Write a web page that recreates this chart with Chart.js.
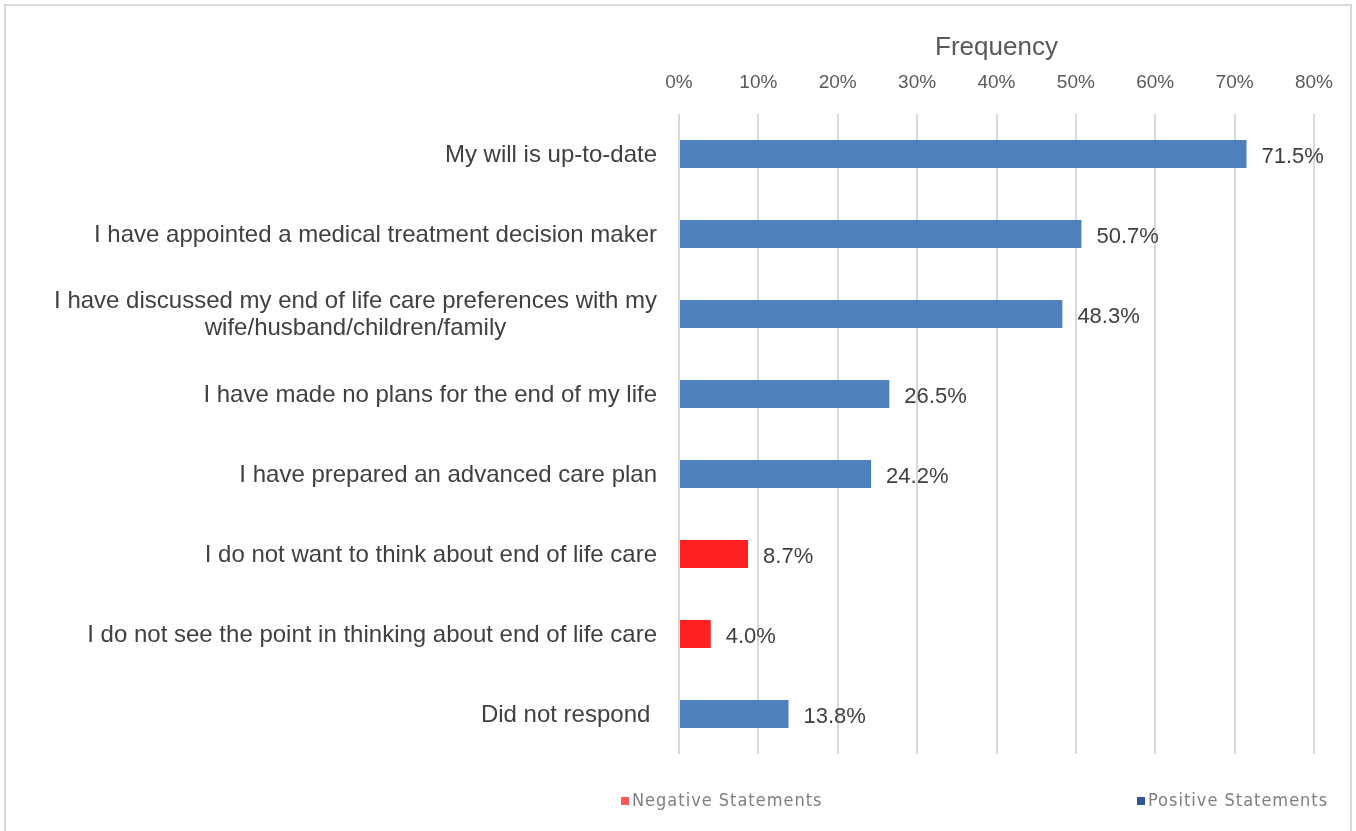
<!DOCTYPE html>
<html>
<head>
<meta charset="utf-8">
<script src="https://cdn.jsdelivr.net/npm/chart.js@4.4.0/dist/chart.umd.min.js"></script>
<style>
  html, body { margin: 0; padding: 0; background: #fff; overflow: hidden; }
  #wrap { position: relative; width: 1356px; height: 831px; }
  #frame { position: absolute; left: 4px; top: 4px; width: 1344px; height: 900px; border: 2px solid #d9d9d9; }
  #chart { position: absolute; left: 0; top: 0; }
  .leg { position: absolute; top: 789px; font-family: "Liberation Sans Narrow", "DejaVu Sans Condensed", sans-serif; font-size: 18px; color: #7f7f7f; white-space: nowrap; letter-spacing: 1px; }
  .leg span { display: inline-block; width: 8px; height: 8px; margin-right: 3px; vertical-align: 1px; }
</style>
</head>
<body>
<div id="wrap">
  <div id="frame"></div>
  <canvas id="chart" width="1356" height="831"></canvas>
  <div class="leg" style="left:621px"><span style="background:#ff5757"></span>Negative Statements</div>
  <div class="leg" style="left:1137px"><span style="background:#2f5597"></span>Positive Statements</div>
</div>
<script>
// Categorias (una linea por elemento del arreglo)
const statements = [
    ['My will is up-to-date'],
    ['I have appointed a medical treatment decision maker'],
    ['I have discussed my end of life care preferences with my', 'wife/husband/children/family'],
    ['I have made no plans for the end of my life'],
    ['I have prepared an advanced care plan'],
    ['I do not want to think about end of life care'],
    ['I do not see the point in thinking about end of life care'],
    ['Did not respond ']
];
const frequency = [71.5, 50.7, 48.3, 26.5, 24.2, 8.7, 4.0, 13.8];
const statementType = ['pos', 'pos', 'pos', 'pos', 'pos', 'neg', 'neg', 'pos'];
const xTicks = [0, 10, 20, 30, 40, 50, 60, 70, 80];

const positive = frequency.map((v, i) => statementType[i] === 'pos' ? v : null);
const negative = frequency.map((v, i) => statementType[i] === 'neg' ? v : null);

const FONT = '"Liberation Sans", Arial, sans-serif';

// Etiquetas del eje Y (bloque alineado a la derecha, lineas centradas)
const categoryLabels = {
    id: 'categoryLabels',
    afterDraw(chart) {
        const c = chart.ctx;
        const y = chart.scales.y;
        const right = chart.chartArea.left - 22;
        const lh = 27;
        c.save();
        c.font = '24px ' + FONT;
        c.fillStyle = '#404040';
        c.textAlign = 'center';
        c.textBaseline = 'middle';
        statements.forEach((lines, i) => {
            const w = Math.max(...lines.map(l => c.measureText(l).width));
            const cx = right - w / 2;
            const cy = y.getPixelForValue(i) + 1;
            lines.forEach((l, k) => {
                c.fillText(l, cx, cy + (k - (lines.length - 1) / 2) * lh);
            });
        });
        c.restore();
    }
};

// Valor al final de cada barra
const valueLabels = {
    id: 'valueLabels',
    afterDatasetsDraw(chart) {
        const c = chart.ctx;
        const x = chart.scales.x;
        const y = chart.scales.y;
        c.save();
        c.font = '22px ' + FONT;
        c.fillStyle = '#404040';
        c.textAlign = 'left';
        c.textBaseline = 'middle';
        frequency.forEach((v, i) => {
            c.fillText(v.toFixed(1) + '%', x.getPixelForValue(v) + 15, y.getPixelForValue(i) + 3);
        });
        c.restore();
    }
};

new Chart(document.getElementById('chart'), {
    type: 'bar',
    data: {
        labels: statements.map(s => s.join(' ')),
        datasets: [
            {
                label: 'Negative Statements',
                data: negative,
                backgroundColor: '#ff2121'
            },
            {
                label: 'Positive Statements',
                data: positive,
                backgroundColor: '#4f81bd'
            }
        ]
    },
    options: {
        indexAxis: 'y',
        responsive: false,
        animation: false,
        categoryPercentage: 0.35,
        barPercentage: 1,
        layout: { padding: { top: 0, right: 42, bottom: 77, left: 0 } },
        scales: {
            x: {
                position: 'top',
                stacked: true,
                min: 0,
                max: 80,
                afterBuildTicks: s => { s.ticks = xTicks.map(v => ({ value: v })); },
                afterFit: s => { s.height = 114; },
                ticks: {
                    callback: v => v + '%',
                    color: '#595959',
                    font: { family: FONT, size: 19 },
                    padding: 20,
                    maxRotation: 0
                },
                grid: { color: '#d9d9d9', lineWidth: 2, drawTicks: false },
                border: { display: false },
                title: {
                    display: true,
                    text: 'Frequency',
                    color: '#595959',
                    font: { family: FONT, size: 26 },
                    padding: { top: 32, bottom: 0 }
                }
            },
            y: {
                stacked: true,
                afterFit: s => { s.width = 679; },
                ticks: { display: false },
                grid: { display: false },
                border: { display: false }
            }
        },
        plugins: {
            legend: { display: false },
            tooltip: { enabled: false }
        }
    },
    plugins: [categoryLabels, valueLabels]
});
</script>
</body>
</html>
